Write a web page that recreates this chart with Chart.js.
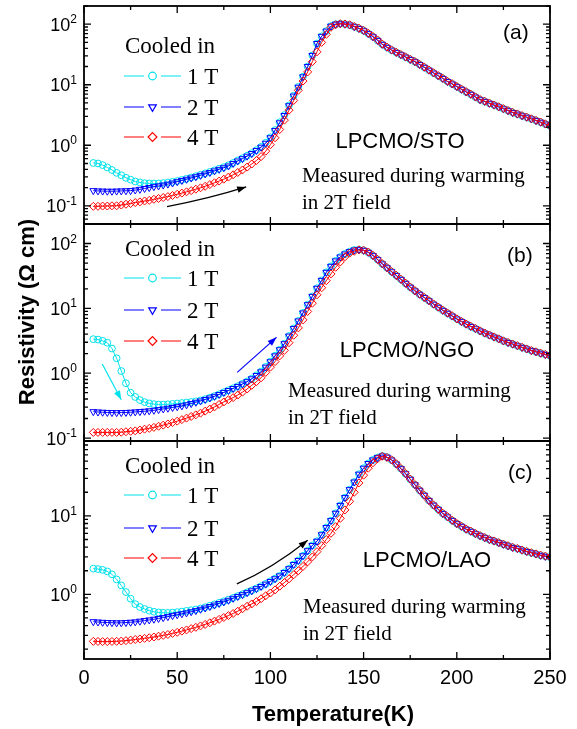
<!DOCTYPE html>
<html>
<head>
<meta charset="utf-8">
<script src="https://cdn.jsdelivr.net/npm/chart.js@4/dist/chart.umd.min.js"></script>
<style>
  html, body { margin: 0; padding: 0; background: #fff; }
  #wrap { position: relative; width: 577px; height: 729px; }
  #wrap canvas { position: absolute; left: 0; top: 0; }
</style>
</head>
<body>
<div id="wrap">
  <canvas id="chartA" width="577" height="729"></canvas>
  <canvas id="chartB" width="577" height="729"></canvas>
  <canvas id="chartC" width="577" height="729"></canvas>
</div>
<script>
// temperature (K) of the plotted points
var temps = [
  5, 7.5, 10, 12.5, 15, 17.5, 20, 22.5, 25, 27.5,
  30, 32.5, 35, 37.5, 40, 42.5, 45, 47.5, 50, 52.5,
  55, 57.5, 60, 62.5, 65, 67.5, 70, 72.5, 75, 77.5,
  80, 82.5, 85, 87.5, 90, 92.5, 95, 97.5, 100, 102.5,
  105, 107.5, 110, 112.5, 115, 117.5, 120, 122.5, 125, 127.5,
  130, 132.5, 135, 137.5, 140, 142.5, 145, 147.5, 150, 152.5,
  155, 157.5, 160, 162.5, 165, 167.5, 170, 172.5, 175, 177.5,
  180, 182.5, 185, 187.5, 190, 192.5, 195, 197.5, 200, 202.5,
  205, 207.5, 210, 212.5, 215, 217.5, 220, 222.5, 225, 227.5,
  230, 232.5, 235, 237.5, 240, 242.5, 245, 247.5, 250
];

// (a) LPCMO/STO, resistivity in Ohm cm
var stoCool1T = [
  0.51, 0.50, 0.47, 0.43, 0.39, 0.35, 0.32, 0.29, 0.27, 0.252,
  0.243, 0.236, 0.234, 0.233, 0.234, 0.237, 0.242, 0.248, 0.256, 0.267,
  0.279, 0.293, 0.308, 0.325, 0.343, 0.363, 0.385, 0.41, 0.435, 0.466,
  0.51, 0.56, 0.61, 0.67, 0.74, 0.83, 0.94, 1.1, 1.35, 1.78,
  2.4, 3.15, 4.55, 6.6, 9.2, 13.6, 20, 30.5, 48, 63,
  77, 93, 100, 102, 100, 97, 91, 85, 78, 70,
  62, 54, 46.5, 41.5, 37.3, 34.2, 31.3, 28.6, 26.1, 24,
  21.6, 19.4, 17.4, 15.6, 14.1, 12.7, 11.3, 10.3, 9.3, 8.4,
  7.6, 6.95, 6.25, 5.65, 5.3, 4.93, 4.6, 4.29, 4.0, 3.73,
  3.47, 3.27, 3.07, 2.9, 2.72, 2.56, 2.4, 2.24, 2.08
];
var stoCool2T = [
  0.178, 0.176, 0.175, 0.174, 0.174, 0.175, 0.176, 0.177, 0.178, 0.182,
  0.187, 0.193, 0.200, 0.207, 0.213, 0.220, 0.228, 0.238, 0.250, 0.262,
  0.274, 0.288, 0.302, 0.318, 0.336, 0.355, 0.377, 0.40, 0.425, 0.455,
  0.50, 0.55, 0.60, 0.66, 0.73, 0.82, 0.93, 1.08, 1.33, 1.75,
  2.35, 3.1, 4.5, 6.5, 9.1, 13.5, 20, 30.5, 48, 63,
  77, 93, 100, 102, 100, 97, 91, 85, 78, 70,
  62, 54, 46.5, 41.5, 37.3, 34.2, 31.3, 28.6, 26.1, 24,
  21.6, 19.4, 17.4, 15.6, 14.1, 12.7, 11.3, 10.3, 9.3, 8.4,
  7.6, 6.95, 6.25, 5.65, 5.3, 4.93, 4.6, 4.29, 4.0, 3.73,
  3.47, 3.27, 3.07, 2.9, 2.72, 2.56, 2.4, 2.24, 2.08
];
var stoCool4T = [
  0.098, 0.098, 0.099, 0.099, 0.100, 0.100, 0.103, 0.106, 0.109, 0.113,
  0.116, 0.120, 0.123, 0.128, 0.132, 0.137, 0.142, 0.148, 0.155, 0.162,
  0.170, 0.178, 0.188, 0.198, 0.210, 0.224, 0.240, 0.256, 0.275, 0.298,
  0.325, 0.355, 0.39, 0.435, 0.49, 0.56, 0.65, 0.80, 1.02, 1.33,
  1.82, 2.6, 3.8, 5.5, 8.1, 11.5, 16.3, 24, 35, 50,
  68, 89, 98, 102, 101, 98, 92, 86, 79, 71,
  63, 55, 47, 42, 37.7, 34.5, 31.6, 28.9, 26.4, 24.3,
  21.8, 19.6, 17.6, 15.8, 14.2, 12.8, 11.4, 10.4, 9.4, 8.5,
  7.7, 7.0, 6.3, 5.7, 5.35, 4.98, 4.64, 4.33, 4.04, 3.76,
  3.5, 3.3, 3.1, 2.92, 2.74, 2.58, 2.42, 2.26, 2.1
];

// (b) LPCMO/NGO
var ngoCool1T = [
  3.35, 3.3, 3.15, 2.95, 2.4, 1.7, 1.08, 0.7, 0.5, 0.43,
  0.385, 0.358, 0.342, 0.333, 0.328, 0.328, 0.331, 0.336, 0.341, 0.347,
  0.353, 0.36, 0.368, 0.38, 0.397, 0.418, 0.443, 0.473, 0.508, 0.545,
  0.585, 0.63, 0.685, 0.745, 0.825, 0.925, 1.06, 1.25, 1.51, 1.86,
  2.3, 2.85, 3.74, 4.9, 6.4, 8.5, 11.4, 15.3, 20.4, 27,
  36, 44.5, 54, 62, 69, 75, 79.5, 80.5, 78.5, 73,
  65, 56.5, 48.5, 42.3, 36.7, 32.1, 28, 24.3, 21.2, 18.6,
  16.5, 14.7, 13.1, 11.6, 10.4, 9.3, 8.4, 7.6, 6.85, 6.25,
  5.7, 5.25, 4.85, 4.47, 4.14, 3.86, 3.6, 3.37, 3.14, 2.97,
  2.8, 2.64, 2.5, 2.36, 2.23, 2.13, 2.03, 1.94, 1.85
];
var ngoCool2T = [
  0.255, 0.252, 0.250, 0.248, 0.247, 0.246, 0.247, 0.248, 0.25, 0.253,
  0.256, 0.259, 0.263, 0.268, 0.274, 0.281, 0.288, 0.296, 0.304, 0.313,
  0.325, 0.34, 0.356, 0.373, 0.393, 0.415, 0.44, 0.47, 0.505, 0.54,
  0.58, 0.625, 0.68, 0.74, 0.82, 0.92, 1.05, 1.24, 1.5, 1.85,
  2.3, 2.85, 3.74, 4.9, 6.4, 8.5, 11.4, 15.3, 20.4, 27,
  36, 44.5, 54, 62, 69, 75, 79.5, 80.5, 78.5, 73,
  65, 56.5, 48.5, 42.3, 36.7, 32.1, 28, 24.3, 21.2, 18.6,
  16.5, 14.7, 13.1, 11.6, 10.4, 9.3, 8.4, 7.6, 6.85, 6.25,
  5.7, 5.25, 4.85, 4.47, 4.14, 3.86, 3.6, 3.37, 3.14, 2.97,
  2.8, 2.64, 2.5, 2.36, 2.23, 2.13, 2.03, 1.94, 1.85
];
var ngoCool4T = [
  0.122, 0.122, 0.122, 0.122, 0.122, 0.122, 0.123, 0.125, 0.127, 0.129,
  0.133, 0.137, 0.141, 0.146, 0.152, 0.158, 0.165, 0.173, 0.182, 0.192,
  0.203, 0.215, 0.228, 0.242, 0.26, 0.28, 0.302, 0.33, 0.36, 0.39,
  0.42, 0.46, 0.51, 0.57, 0.65, 0.74, 0.85, 1.03, 1.24, 1.51,
  1.85, 2.25, 2.95, 3.85, 5.0, 6.65, 8.95, 12, 16.2, 20.8,
  26.7, 34, 43, 52, 62.5, 71, 76, 80, 79, 74,
  66, 57, 49, 42.7, 37, 32.4, 28.2, 24.5, 21.4, 18.8,
  16.6, 14.8, 13.2, 11.7, 10.5, 9.4, 8.5, 7.7, 6.9, 6.3,
  5.75, 5.3, 4.9, 4.5, 4.17, 3.89, 3.63, 3.39, 3.16, 2.99,
  2.82, 2.66, 2.51, 2.37, 2.24, 2.14, 2.04, 1.95, 1.86
];

// (c) LPCMO/LAO
var laoCool1T = [
  2.13, 2.1, 2.05, 1.96, 1.8, 1.55, 1.3, 1.07, 0.88, 0.75,
  0.69, 0.65, 0.62, 0.6, 0.588, 0.582, 0.58, 0.585, 0.593, 0.603,
  0.615, 0.628, 0.642, 0.66, 0.685, 0.715, 0.745, 0.78, 0.815, 0.855,
  0.9, 0.95, 1.0, 1.06, 1.12, 1.19, 1.27, 1.36, 1.47, 1.59,
  1.72, 1.9, 2.12, 2.4, 2.7, 3.1, 3.6, 4.2, 4.75, 5.75,
  7.1, 8.7, 10.8, 13.6, 17.1, 21.6, 27, 34, 40.5, 46.5,
  51.6, 55.3, 58, 56, 51.5, 45.8, 40, 34.4, 29.3, 24.9,
  21.2, 18.3, 15.7, 13.7, 12.1, 10.7, 9.7, 8.75, 7.95, 7.35,
  6.75, 6.35, 5.92, 5.57, 5.27, 4.97, 4.77, 4.54, 4.34, 4.14,
  3.96, 3.83, 3.65, 3.51, 3.38, 3.26, 3.14, 3.05, 2.97
];
var laoCool2T = [
  0.448, 0.444, 0.44, 0.437, 0.435, 0.433, 0.434, 0.437, 0.441, 0.446,
  0.455, 0.463, 0.472, 0.482, 0.493, 0.505, 0.52, 0.535, 0.55, 0.565,
  0.58, 0.6, 0.62, 0.645, 0.67, 0.7, 0.73, 0.765, 0.8, 0.84,
  0.89, 0.94, 0.99, 1.05, 1.11, 1.18, 1.26, 1.35, 1.46, 1.58,
  1.72, 1.9, 2.12, 2.4, 2.7, 3.1, 3.6, 4.2, 4.75, 5.75,
  7.1, 8.7, 10.8, 13.6, 17.1, 21.6, 27, 34, 40.5, 46.5,
  51.6, 55.3, 58, 56, 51.5, 45.8, 40, 34.4, 29.3, 24.9,
  21.2, 18.3, 15.7, 13.7, 12.1, 10.7, 9.7, 8.75, 7.95, 7.35,
  6.75, 6.35, 5.92, 5.57, 5.27, 4.97, 4.77, 4.54, 4.34, 4.14,
  3.96, 3.83, 3.65, 3.51, 3.38, 3.26, 3.14, 3.05, 2.97
];
var laoCool4T = [
  0.252, 0.251, 0.25, 0.25, 0.251, 0.252, 0.254, 0.257, 0.261, 0.266,
  0.27, 0.275, 0.28, 0.286, 0.293, 0.3, 0.308, 0.318, 0.328, 0.34,
  0.352, 0.366, 0.38, 0.396, 0.414, 0.434, 0.456, 0.48, 0.507, 0.537,
  0.57, 0.61, 0.655, 0.705, 0.755, 0.81, 0.88, 0.96, 1.04, 1.14,
  1.27, 1.41, 1.58, 1.78, 2.0, 2.27, 2.6, 3.0, 3.5, 4.18,
  5.0, 6.0, 7.3, 9.3, 11.9, 15.3, 20, 26.3, 33, 40.5,
  47.5, 53.5, 57.5, 55.6, 51.9, 46.2, 40.3, 34.7, 29.5, 25.1,
  21.4, 18.4, 15.8, 13.8, 12.2, 10.8, 9.8, 8.8, 8.0, 7.4,
  6.8, 6.4, 5.96, 5.6, 5.3, 5.0, 4.8, 4.57, 4.37, 4.17,
  3.98, 3.85, 3.67, 3.53, 3.4, 3.28, 3.16, 3.07, 2.99
];

// axis ticks
var xTicks = [0, 50, 100, 150, 200, 250];
var yExpA = [-1, 0, 1, 2];
var yExpB = [-1, 0, 1, 2];
var yExpC = [0, 1];
var legendLabels = ["1 T", "2 T", "4 T"];

// arrows drawn in the panels, [T, rho]
var stoArrow = [[44.5, 0.097], [66, 0.135], [87, 0.205]];
var ngoArrowBlue = [[82.2, 1.03], [103.3, 3.57]];
var ngoArrowCyan = [[9.8, 1.39], [20, 0.39]];
var laoArrow = [[82, 1.36], [101, 2.35], [120, 4.9]];

var SANS = '"Liberation Sans", Arial, sans-serif';
var SERIF = '"Liberation Serif", "Times New Roman", serif';
var CYAN = "rgb(0,225,235)";
var BLUE = "#0000ff";
var RED = "#ff0000";

var styles = [
  { color: CYAN, pointStyle: "circle", rotation: 0, radius: 3.4 },
  { color: BLUE, pointStyle: "triangle", rotation: 180, radius: 4 },
  { color: RED, pointStyle: "rectRot", rotation: 0, radius: 4 }
];

function series(values, st) {
  return {
    data: values.map(function (v, i) { return { x: temps[i], y: v }; }),
    borderColor: st.color,
    backgroundColor: "rgba(0,0,0,0)",
    borderWidth: 1,
    pointStyle: st.pointStyle,
    pointRotation: st.rotation,
    pointRadius: st.radius,
    pointBorderColor: st.color,
    pointBackgroundColor: "rgba(0,0,0,0)",
    pointBorderWidth: 1,
    tension: 0
  };
}

function drawArrow(chart, pts, color) {
  var ctx = chart.ctx;
  var xs = chart.scales.x, ys = chart.scales.y;
  var p = pts.map(function (q) {
    return { x: xs.getPixelForValue(q[0]), y: ys.getPixelForValue(q[1]) };
  });
  ctx.save();
  ctx.strokeStyle = color;
  ctx.fillStyle = color;
  ctx.lineWidth = 1.2;
  ctx.beginPath();
  ctx.moveTo(p[0].x, p[0].y);
  var from;
  var end = p[p.length - 1];
  if (p.length === 3) {
    var cx = 2 * p[1].x - (p[0].x + p[2].x) / 2;
    var cy = 2 * p[1].y - (p[0].y + p[2].y) / 2;
    ctx.quadraticCurveTo(cx, cy, end.x, end.y);
    from = { x: cx, y: cy };
  } else {
    ctx.lineTo(end.x, end.y);
    from = p[0];
  }
  ctx.stroke();
  var ang = Math.atan2(end.y - from.y, end.x - from.x);
  var L = 9, W = 3.3;
  ctx.beginPath();
  ctx.moveTo(end.x, end.y);
  ctx.lineTo(end.x - L * Math.cos(ang) + W * Math.sin(ang), end.y - L * Math.sin(ang) - W * Math.cos(ang));
  ctx.lineTo(end.x - L * Math.cos(ang) - W * Math.sin(ang), end.y - L * Math.sin(ang) + W * Math.cos(ang));
  ctx.closePath();
  ctx.fill();
  ctx.restore();
}

function panelPlugin(panel) {
  return {
    id: "panel" + panel.tag,
    afterDraw: function (chart) {
      var ctx = chart.ctx, a = chart.chartArea;
      var xs = chart.scales.x, ys = chart.scales.y;
      ctx.save();
      ctx.strokeStyle = "#000";
      ctx.fillStyle = "#000";

      // x ticks, inward on top and bottom
      ctx.lineWidth = 1.3;
      ctx.beginPath();
      xTicks.forEach(function (t, i) {
        var px = xs.getPixelForValue(t);
        ctx.moveTo(px, a.top); ctx.lineTo(px, a.top + 7);
        ctx.moveTo(px, a.bottom); ctx.lineTo(px, a.bottom - 7);
        if (i < xTicks.length - 1) {
          var pm = xs.getPixelForValue(t + 25);
          ctx.moveTo(pm, a.top); ctx.lineTo(pm, a.top + 4);
          ctx.moveTo(pm, a.bottom); ctx.lineTo(pm, a.bottom - 4);
        }
      });
      // y ticks (log), inward on left and right
      var lo = Math.floor(Math.log10(panel.yMin)), hi = Math.ceil(Math.log10(panel.yMax));
      for (var d = lo; d <= hi; d++) {
        for (var m = 1; m <= 9; m++) {
          var v = m * Math.pow(10, d);
          if (v < panel.yMin || v > panel.yMax) continue;
          var py = ys.getPixelForValue(v);
          var len = m === 1 ? 7 : 4;
          ctx.moveTo(a.left, py); ctx.lineTo(a.left + len, py);
          ctx.moveTo(a.right, py); ctx.lineTo(a.right - len, py);
        }
      }
      ctx.stroke();

      // frame
      ctx.lineWidth = 1.8;
      ctx.strokeRect(a.left, a.top, a.right - a.left, a.bottom - a.top);

      // y tick labels 10^n
      ctx.textAlign = "right";
      ctx.textBaseline = "alphabetic";
      panel.yExp.forEach(function (e) {
        var py = ys.getPixelForValue(Math.pow(10, e));
        var es = e < 0 ? "-" + Math.abs(e) : String(e);
        ctx.font = "12px " + SANS;
        var ew = ctx.measureText(es).width;
        ctx.fillText(es, 77, py - 1);
        ctx.font = "18px " + SANS;
        ctx.fillText("10", 77 - ew, py + 6.5);
      });

      // legend
      var lg = panel.legend;
      ctx.textAlign = "left";
      ctx.font = "23px " + SERIF;
      ctx.fillText("Cooled in", lg.x + 1, lg.titleY);
      lg.rows.forEach(function (ry, i) {
        var st = styles[i];
        ctx.strokeStyle = st.color;
        ctx.lineWidth = 1.2;
        ctx.beginPath();
        ctx.moveTo(lg.x, ry); ctx.lineTo(lg.x + 20, ry);
        ctx.moveTo(lg.x + 37, ry); ctx.lineTo(lg.x + 57, ry);
        ctx.stroke();
        ctx.fillStyle = "rgba(0,0,0,0)";
        Chart.helpers.drawPoint(ctx, {
          pointStyle: st.pointStyle, rotation: st.rotation,
          radius: st.radius + 0.4, borderWidth: 1
        }, lg.x + 28.5, ry);
        ctx.fillStyle = "#000";
        ctx.font = "23px " + SERIF;
        ctx.fillText(legendLabels[i], lg.x + 63, ry + 8);
      });

      // annotations
      ctx.fillStyle = "#000";
      ctx.font = "22px " + SANS;
      ctx.textAlign = "center";
      ctx.fillText(panel.name, panel.nameX, panel.nameY);
      ctx.textAlign = "left";
      ctx.font = "21px " + SANS;
      ctx.fillText(panel.label, panel.labelX, panel.labelY);
      ctx.font = "21px " + SERIF;
      ctx.fillText("Measured during warming", panel.measX, panel.measY);
      ctx.fillText("in 2T field", panel.measX, panel.measY + 26.6);
      ctx.restore();

      panel.arrows.forEach(function (ar) { drawArrow(chart, ar.pts, ar.color); });
      if (panel.extra) panel.extra(chart);
    }
  };
}

function makeChart(id, panel) {
  var isBottom = panel.tag === "C";
  var xScale = {
    type: "linear",
    min: 0,
    max: 250,
    display: isBottom,
    grid: { display: false, drawTicks: false },
    border: { display: false },
    ticks: {
      stepSize: 50,
      autoSkip: false,
      maxRotation: 0,
      padding: 7,
      color: "#000",
      font: { family: SANS, size: 20 }
    }
  };
  if (isBottom) {
    xScale.afterFit = function (s) { s.height = 70; };
  }
  return new Chart(document.getElementById(id), {
    type: "line",
    data: {
      datasets: [
        series(panel.s4, styles[2]),
        series(panel.s2, styles[1]),
        series(panel.s1, styles[0])
      ]
    },
    options: {
      responsive: false,
      animation: false,
      layout: { padding: panel.padding },
      plugins: { legend: { display: false }, tooltip: { enabled: false } },
      scales: {
        x: xScale,
        y: {
          type: "logarithmic",
          min: panel.yMin,
          max: panel.yMax,
          display: false
        }
      }
    },
    plugins: [panelPlugin(panel)]
  });
}

makeChart("chartA", {
  tag: "A", s1: stoCool1T, s2: stoCool2T, s4: stoCool4T,
  yMin: 0.05, yMax: 200, yExp: yExpA,
  padding: { top: 6, bottom: 505, left: 84, right: 27 },
  legend: { x: 124, titleY: 53, rows: [76, 107, 137] },
  name: "LPCMO/STO", nameX: 400, nameY: 148,
  label: "(a)", labelX: 503, labelY: 39,
  measX: 302, measY: 182,
  arrows: [{ pts: stoArrow, color: "#000" }],
  extra: function (chart) {
    var ctx = chart.ctx;
    ctx.save();
    ctx.translate(28, 312);
    ctx.rotate(-Math.PI / 2);
    ctx.font = "bold 22px " + SANS;
    ctx.textAlign = "center";
    ctx.textBaseline = "middle";
    ctx.fillStyle = "#000";
    ctx.fillText("Resistivity (\u03A9 cm)", 0, 0);
    ctx.restore();
  }
});

makeChart("chartB", {
  tag: "B", s1: ngoCool1T, s2: ngoCool2T, s4: ngoCool4T,
  yMin: 0.09, yMax: 200, yExp: yExpB,
  padding: { top: 224, bottom: 288, left: 84, right: 27 },
  legend: { x: 124, titleY: 256, rows: [278, 310, 341] },
  name: "LPCMO/NGO", nameX: 407, nameY: 357,
  label: "(b)", labelX: 507, labelY: 262,
  measX: 288, measY: 397,
  arrows: [{ pts: ngoArrowBlue, color: BLUE }, { pts: ngoArrowCyan, color: CYAN }]
});

makeChart("chartC", {
  tag: "C", s1: laoCool1T, s2: laoCool2T, s4: laoCool4T,
  yMin: 0.15, yMax: 90, yExp: yExpC,
  padding: { top: 441, bottom: 0, left: 84, right: 27 },
  legend: { x: 124, titleY: 473, rows: [495, 528, 558] },
  name: "LPCMO/LAO", nameX: 427, nameY: 567,
  label: "(c)", labelX: 508, labelY: 479,
  measX: 303, measY: 613,
  arrows: [{ pts: laoArrow, color: "#000" }],
  extra: function (chart) {
    var ctx = chart.ctx;
    ctx.save();
    ctx.font = "bold 22px " + SANS;
    ctx.textAlign = "center";
    ctx.textBaseline = "middle";
    ctx.fillStyle = "#000";
    ctx.fillText("Temperature(K)", 333, 715);
    ctx.restore();
  }
});
</script>
</body>
</html>
